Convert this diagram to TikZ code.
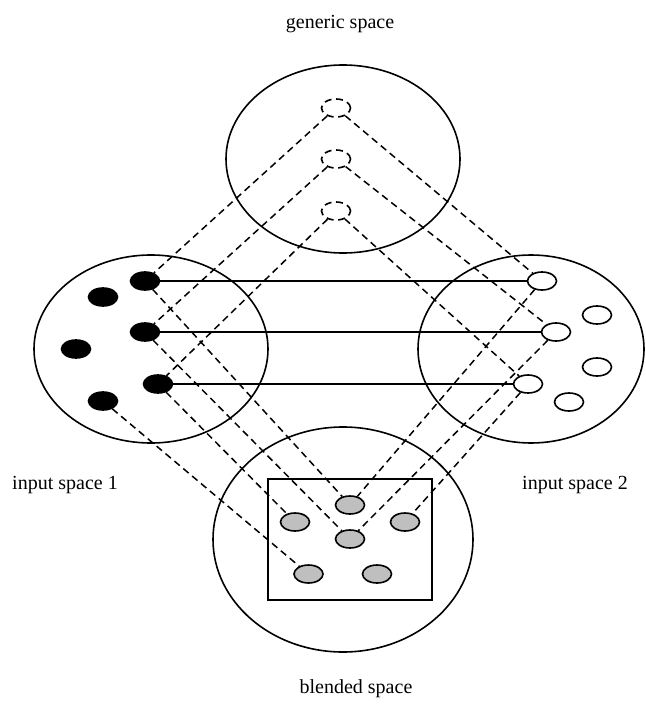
\documentclass[tikz,border=0pt]{standalone}
\usepackage{fontspec}
\setmainfont{Liberation Serif}
\usetikzlibrary{shapes.geometric}
\tikzset{
    spacecircle/.style={draw, thick, ellipse, inner sep=0pt}, % the big circles
    elem/.style={draw, thick, ellipse, inner sep=0pt, minimum width=14.5pt, minimum height=9pt}, % small elements
    inone/.style={elem, fill=black}, % elements of input space 1
    intwo/.style={elem, fill=white}, % elements of input space 2
    gen/.style={elem, dashed, dash pattern=on 3.5pt off 2.3pt}, % elements of generic space
    blend/.style={elem, fill=gray!50}, % elements of the blend
    mapping/.style={dashed, dash pattern=on 3.5pt off 2.3pt, line width=0.75pt}, % projections
    counterpart/.style={thick}, % cross-space mapping
    every node/.append style={font=\fontsize{10}{12}\selectfont},
}
\begin{document}
\begin{tikzpicture}[x=0.5pt, y=-0.5pt]
    \useasboundingbox (0,0) rectangle (645,706);
    % the four spaces
    \node[spacecircle, minimum width=117pt, minimum height=94pt] (generic) at (343,159) {};
    \node[spacecircle, minimum width=117pt, minimum height=94pt] (input1) at (151,349) {};
    \node[spacecircle, minimum width=113pt, minimum height=94pt] (input2) at (531,349) {};
    \node[spacecircle, minimum width=130pt, minimum height=112.5pt] (blended) at (343,539.5) {};
    \draw[thick] (268,479) rectangle (432,600);
    % labels
    \node (lgen) at (340,24) {generic space};
    \node (lin1) at (65,485) {input space 1};
    \node (lin2) at (575,485) {input space 2};
    \node (lblend) at (356,689) {blended space};
    % generic space
    \node[gen] (g1) at (336,108) {};
    \node[gen] (g2) at (336,159) {};
    \node[gen] (g3) at (336,211) {};
    % input space 1
    \node[inone] (a1) at (145,281) {};
    \node[inone] (a2) at (103,297) {};
    \node[inone] (a3) at (145,332) {};
    \node[inone] (a4) at (76,349) {};
    \node[inone] (a5) at (158,384) {};
    \node[inone] (a6) at (103,401) {};
    % input space 2
    \node[intwo] (b1) at (542,281) {};
    \node[intwo] (b2) at (597,315) {};
    \node[intwo] (b3) at (556,332) {};
    \node[intwo] (b4) at (597,367) {};
    \node[intwo] (b5) at (528,384) {};
    \node[intwo] (b6) at (569,402) {};
    % blended space
    \node[blend] (m1) at (350,505) {};
    \node[blend] (m2) at (295,522) {};
    \node[blend] (m3) at (405,522) {};
    \node[blend] (m4) at (350,539) {};
    \node[blend] (m5) at (308.5,574) {};
    \node[blend] (m6) at (377,574) {};
    % mappings
    \draw[counterpart] (a1) -- (b1) (a3) -- (b3) (a5) -- (b5);
    \draw[mapping] (g1) -- (a1) (g1) -- (b1)
        (g2) -- (a3) (g2) -- (b3)
        (g3) -- (a5) (g3) -- (b5);
    \draw[mapping] (a1) -- (m1) (a3) -- (m4) (a5) -- (m2) (a6) -- (m5)
        (b1) -- (m1) (b3) -- (m4) (b5) -- (m3);
\end{tikzpicture}
\end{document}
